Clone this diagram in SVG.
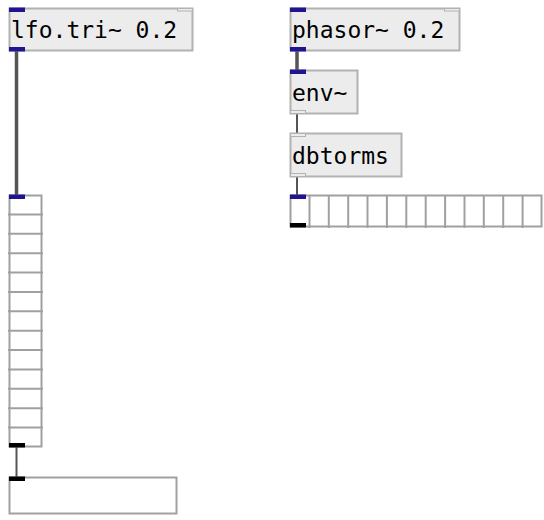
<svg xmlns="http://www.w3.org/2000/svg" width="544" height="520" viewBox="0 0 544 520">
<style>
.box{fill:#ececec;stroke:#b2b2b2;stroke-width:2}
.gui{fill:#ffffff;stroke:#a0a0a0;stroke-width:2}
.div{stroke:#a0a0a0;stroke-width:2}
.txt{font-family:"DejaVu Sans Mono","Liberation Mono",monospace;font-size:23px;fill:#000}
.in{fill:#21158f}
.blk{fill:#000}
.hol{fill:#ececec;stroke:#b2b2b2;stroke-width:1}
.sig{stroke:#555;stroke-width:3.5;fill:none}
.ctl{stroke:#555;stroke-width:2;fill:none}
</style>
<rect width="544" height="520" fill="#fff"/>
<g id="connectors">
<line class="sig" x1="16.5" y1="51" x2="16.5" y2="195"/>
<line class="sig" x1="297" y1="51" x2="297" y2="70"/>
<line class="ctl" x1="297" y1="114" x2="297" y2="133"/>
<line class="ctl" x1="297" y1="177" x2="297" y2="195"/>
<line class="ctl" x1="16.5" y1="447" x2="16.5" y2="477"/>
</g>
<g id="lfo">
<rect class="box" x="9.5" y="8.5" width="183" height="42"/>
<text class="txt" x="11" y="38">lfo.tri~ 0.2</text>
<rect class="in" x="9" y="7.5" width="16" height="4.5"/>
<rect class="hol" x="177.5" y="8.5" width="15" height="2.5"/>
<rect class="in" x="9" y="47" width="16" height="4.5"/>
</g>
<g id="phasor">
<rect class="box" x="290.5" y="8.5" width="169" height="42"/>
<text class="txt" x="292" y="38">phasor~ 0.2</text>
<rect class="in" x="290" y="7.5" width="16" height="4.5"/>
<rect class="hol" x="444.5" y="8.5" width="15" height="2.5"/>
<rect class="in" x="290" y="47" width="16" height="4.5"/>
</g>
<g id="env">
<rect class="box" x="290.5" y="70.5" width="67" height="43"/>
<text class="txt" x="292" y="101">env~</text>
<rect class="in" x="290" y="69.5" width="16" height="4.5"/>
<rect class="hol" x="290.5" y="110.5" width="15" height="3"/>
</g>
<g id="dbtorms">
<rect class="box" x="290.5" y="133.5" width="111" height="43"/>
<text class="txt" x="292" y="164">dbtorms</text>
<rect class="hol" x="290.5" y="133.5" width="15" height="3"/>
<rect class="hol" x="290.5" y="173.5" width="15" height="3"/>
</g>
<g id="hradio">
<rect class="gui" x="290.5" y="195.5" width="251" height="31"/>
<g class="div">
<line x1="309.5" y1="195" x2="309.5" y2="228"/>
<line x1="328.8" y1="195" x2="328.8" y2="228"/>
<line x1="348.2" y1="195" x2="348.2" y2="228"/>
<line x1="367.5" y1="195" x2="367.5" y2="228"/>
<line x1="386.9" y1="195" x2="386.9" y2="228"/>
<line x1="406.3" y1="195" x2="406.3" y2="228"/>
<line x1="425.7" y1="195" x2="425.7" y2="228"/>
<line x1="445.1" y1="195" x2="445.1" y2="228"/>
<line x1="464.5" y1="195" x2="464.5" y2="228"/>
<line x1="483.8" y1="195" x2="483.8" y2="228"/>
<line x1="503.2" y1="195" x2="503.2" y2="228"/>
<line x1="522.6" y1="195" x2="522.6" y2="228"/>
</g>
<rect class="in" x="290" y="194.5" width="16" height="4.5"/>
<rect class="blk" x="290" y="223" width="16" height="4.5"/>
</g>
<g id="vradio">
<rect class="gui" x="9.5" y="195.5" width="32" height="251"/>
<g class="div">
<line x1="8" y1="214.4" x2="43" y2="214.4"/>
<line x1="8" y1="233.8" x2="43" y2="233.8"/>
<line x1="8" y1="253.2" x2="43" y2="253.2"/>
<line x1="8" y1="272.5" x2="43" y2="272.5"/>
<line x1="8" y1="291.9" x2="43" y2="291.9"/>
<line x1="8" y1="311.3" x2="43" y2="311.3"/>
<line x1="8" y1="330.7" x2="43" y2="330.7"/>
<line x1="8" y1="350.1" x2="43" y2="350.1"/>
<line x1="8" y1="369.5" x2="43" y2="369.5"/>
<line x1="8" y1="388.8" x2="43" y2="388.8"/>
<line x1="8" y1="408.2" x2="43" y2="408.2"/>
<line x1="8" y1="427.6" x2="43" y2="427.6"/>
</g>
<rect class="in" x="9" y="194.5" width="16" height="4.5"/>
<rect class="blk" x="9" y="443" width="16" height="4.5"/>
</g>
<g id="numbox">
<rect class="gui" x="9.5" y="477.5" width="167" height="36"/>
<rect class="blk" x="9" y="476.5" width="16" height="4.5"/>
</g>
</svg>
